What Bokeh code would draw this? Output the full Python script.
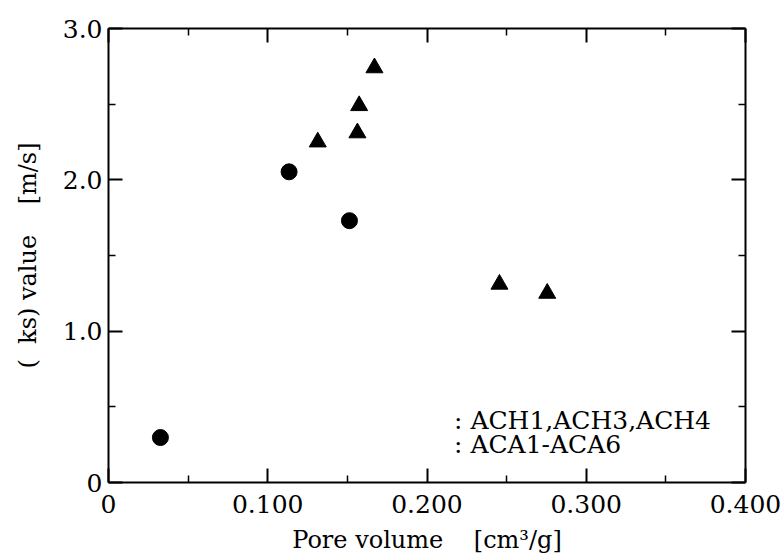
from bokeh.plotting import figure
from bokeh.models import LinearAxis, FixedTicker, CustomJSTickFormatter, Label, Range1d
from bokeh.embed import file_html
from bokeh.resources import INLINE

# ---- data ----
circle_x = [0.0326, 0.1134, 0.1513]
circle_y = [0.297, 2.053, 1.73]
tri_x = [0.1314, 0.1563, 0.1574, 0.167, 0.2455, 0.2755]
tri_y = [2.25, 2.31, 2.49, 2.74, 1.31, 1.25]

x_major = [0, 0.1, 0.2, 0.3, 0.4]
x_minor = [0.05, 0.15, 0.25, 0.35]
y_major = [0, 1, 2, 3]
y_minor = [0.5, 1.5, 2.5]

legend_labels = [": ACH1,ACH3,ACH4", ": ACA1-ACA6"]
legend_x = 0.2170
legend_y = [0.41, 0.251]
x_label = "Pore volume\u00a0\u00a0\u00a0\u00a0[cm\u00b3/g]"
y_label = "(\u00a0\u00a0ks) value\u00a0\u00a0\u00a0\u00a0[m/s]"

FONT = "DejaVu Serif"

p = figure(width=783, height=559, output_backend="svg", toolbar_location=None,
           x_range=Range1d(0, 0.4), y_range=Range1d(0, 3),
           x_axis_type=None, y_axis_type=None,
           min_border_left=108, min_border_right=38, min_border_top=28, min_border_bottom=77)
p.grid.visible = False
p.outline_line_color = None
p.background_fill_color = "white"
p.border_fill_color = "white"

xt = FixedTicker(ticks=x_major, minor_ticks=x_minor)
yt = FixedTicker(ticks=y_major, minor_ticks=y_minor)
xf = CustomJSTickFormatter(code="return tick == 0 ? '0' : tick.toFixed(3);")
yf = CustomJSTickFormatter(code="return tick == 0 ? '0' : tick.toFixed(1);")

bottom = LinearAxis(ticker=xt, formatter=xf, axis_label=x_label)
left = LinearAxis(ticker=yt, formatter=yf, axis_label=y_label)
top = LinearAxis(ticker=xt, major_label_text_font_size="0px", major_label_standoff=0)
right = LinearAxis(ticker=yt, major_label_text_font_size="0px", major_label_standoff=0)

for ax in [bottom, left, top, right]:
    ax.major_tick_in = 14
    ax.major_tick_out = 0
    ax.minor_tick_in = 7
    ax.minor_tick_out = 0
    ax.axis_line_width = 2
    ax.axis_line_color = "black"
    ax.major_tick_line_width = 2
    ax.minor_tick_line_width = 1.5
    ax.major_tick_line_color = "black"
    ax.minor_tick_line_color = "black"

for ax in [bottom, left]:
    ax.major_label_text_font = FONT
    ax.major_label_text_font_size = "25px"
    ax.major_label_text_color = "black"
    ax.axis_label_text_font = FONT
    ax.axis_label_text_font_size = "24px"
    ax.axis_label_text_font_style = "normal"
    ax.axis_label_text_color = "black"

bottom.major_label_standoff = 12
bottom.axis_label_standoff = 10
left.major_label_standoff = 6
left.axis_label_standoff = 18

p.add_layout(bottom, "below")
p.add_layout(left, "left")
p.add_layout(top, "above")
p.add_layout(right, "right")

p.scatter(circle_x, circle_y, marker="circle", size=16, color="black")
p.scatter(tri_x, tri_y, marker="triangle", size=17, color="black")

for txt, yy in zip(legend_labels, legend_y):
    p.add_layout(Label(x=legend_x, y=yy, text=txt, text_font=FONT, text_font_size="25px",
                       text_baseline="middle", text_color="black"))

open("out.html", "w").write(file_html(p, INLINE))
